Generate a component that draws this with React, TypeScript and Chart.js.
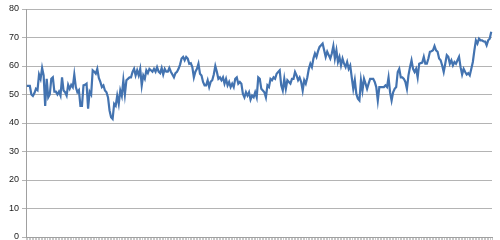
import React, { useEffect, useRef } from "react";
import { Chart, registerables } from "chart.js";

Chart.register(...registerables);

// Series values, left to right
const segA: number[] = [53, 53, 53, 50, 49.5, 50.5, 52, 51.5, 57, 55.5, 59.3, 56.7, 46, 55.5, 49, 50, 55.5, 56, 51, 51, 50, 51, 49.6, 56, 51.4, 50.8, 49.6, 53.4, 52, 53.4, 52.6, 57, 52.6, 50.8, 51.5, 46, 46, 53.2, 53.4, 53.8, 45, 51, 50, 58.5, 58, 57.3, 59, 55.8, 54.4, 52.6, 53.2, 51.4, 50.8, 49, 44.4];
const segB: number[] = [42, 41.4, 46.7, 46, 49.6, 46.7, 51.4, 49.5, 55, 50, 55, 55.5, 56, 56, 57.9, 59, 56.7, 58.5, 56.7, 59, 53.2, 56.7, 55.5, 58.5, 57.5, 59, 58.5, 58, 59, 58, 59.6, 58, 57.5, 59.3, 57, 59, 58, 58, 59.3, 58, 57, 56, 57.5, 58, 59, 60.5, 62.6, 63.2, 62, 63.2, 62.6, 60.8, 61, 59.6, 56, 58, 59, 60.8, 57.3, 56.7, 54.4, 53.2];
const segC: number[] = [53.2, 55, 52.6, 54.5, 55, 57, 60, 58, 55.5, 56, 55, 56, 53.8, 55.5, 53.2, 54.4, 52.6, 53.8, 52.6, 55.5, 56, 53.8, 54.4, 53.8, 50.2, 49, 50.8, 49.6, 50.8, 48.2, 49.6, 49, 50.8, 49, 56, 55.5, 52, 51.4, 50.8, 49, 53.2, 52.6, 55.5, 55, 56, 55.5, 57.3, 57.9, 58.5, 53.2, 51.4, 55.5, 52, 55, 54.4, 53.8, 55.5, 55.5, 57.9, 56.7];
const segD: number[] = [55, 56, 54.4, 51.4, 55, 53.8, 56, 59, 60.8, 59.6, 62.6, 64.4, 63.2, 65.2, 66.7, 67.3, 67.9, 65.5, 63.2, 65, 63.8, 62.6, 64.4, 67, 62.6, 65.5, 61.4, 63.2, 60.2, 62.6, 60.8, 59.6, 61.4, 59, 60.2, 56, 52, 55, 50.2, 48.5, 47.9, 55, 51.4, 55.5, 53.8, 52, 53.8, 55.5, 55.5, 55.5, 54.4, 52.6, 47.9, 52.6, 52.6, 52.6, 52.6, 53.2, 52.6, 56, 50.8, 47.9, 50.8, 52];
const segE: number[] = [52.6, 57.9, 59, 56, 56, 55.5, 54.4, 52, 56.7, 59.6, 62, 59, 57.9, 59, 56, 60.8, 61, 61.2, 63.2, 60.8, 60.8, 62.6, 65, 65.2, 65.5, 67, 65.5, 65, 62.6, 62, 60.2, 57.9, 60.8, 63.8, 63.2, 60.8, 62, 60.2, 61.4, 60.8, 62, 63.2, 59.6, 57, 59, 57.9, 57, 57.5, 56.7, 59, 61.4, 65.5, 69, 67.9, 69.6, 69, 69, 68.6, 68.6, 67.3, 69, 69.6, 72];

const values: number[] = [...segA, ...segB, ...segC, ...segD, ...segE];
const categories: string[] = values.map((_, i) => String(i + 1));

const yMin = 0;
const yMax = 80;
const yStep = 10;

export default function App() {
  const ref = useRef<HTMLCanvasElement | null>(null);

  useEffect(() => {
    document.body.style.margin = "0";
    const canvas = ref.current;
    if (!canvas) return;
    const chart = new Chart(canvas, {
      type: "line",
      data: {
        labels: categories,
        datasets: [
          {
            data: values,
            borderColor: "#4373b0",
            borderWidth: 2.2,
            pointRadius: 0,
            tension: 0,
            fill: false,
          },
        ],
      },
      options: {
        responsive: false,
        animation: false,
        devicePixelRatio: 1,
        layout: { padding: { left: 6, right: 8, top: 9, bottom: 0 } },
        plugins: { legend: { display: false }, tooltip: { enabled: false } },
        scales: {
          x: {
            type: "category",
            offset: true,
            grid: {
              offset: true,
              drawOnChartArea: false,
              drawTicks: true,
              tickLength: 3,
              color: "#c8c8c8",
              lineWidth: 1,
            },
            border: { display: true, color: "#a0a0a0", width: 1 },
            ticks: { display: false, autoSkip: false },
          },
          y: {
            min: yMin,
            max: yMax,
            afterFit: (scale: any) => {
              scale.paddingTop = 0;
              scale.paddingBottom = 0;
            },
            grid: {
              color: "#b4b4b4",
              lineWidth: 1,
              drawTicks: true,
              tickLength: 4,
            },
            border: { display: true, color: "#a0a0a0", width: 1 },
            ticks: {
              stepSize: yStep,
              padding: 3,
              color: "#222",
              font: { family: "Liberation Sans", size: 9 },
            },
          },
        },
      },
    });
    return () => chart.destroy();
  }, []);

  return (
    <div style={{ position: "fixed", left: 0, top: 0, width: 500, height: 240, background: "#fff", overflow: "hidden" }}>
      <canvas ref={ref} width={500} height={240} />
    </div>
  );
}
